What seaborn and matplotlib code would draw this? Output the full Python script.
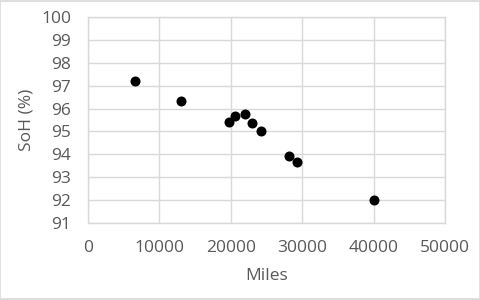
import matplotlib
matplotlib.use("Agg")
import matplotlib.pyplot as plt
import seaborn as sns
import pandas as pd
from matplotlib.patches import Rectangle

miles = [6600, 13000, 19750, 20650, 22000, 23000, 24200, 28200, 29300, 40000]
soh = [97.2, 96.35, 95.4, 95.68, 95.78, 95.38, 95.0, 93.93, 93.68, 92.0]
x_ticks = [0, 10000, 20000, 30000, 40000, 50000]
y_ticks = [91, 92, 93, 94, 95, 96, 97, 98, 99, 100]

df = pd.DataFrame({"Miles": miles, "SoH (%)": soh})

sns.set_theme(style="whitegrid")
plt.rcParams["font.family"] = ["Open Sans", "DejaVu Sans"]

fig = plt.figure(figsize=(4.81, 3.0), dpi=100)
ax = fig.add_axes([0.183, 0.257, 0.742, 0.686])

sns.scatterplot(data=df, x="Miles", y="SoH (%)", ax=ax, color="black",
                s=52, edgecolor="black", linewidth=0, zorder=3)

ax.set_xlim(0, 50000)
ax.set_ylim(91, 100)
ax.set_xticks(x_ticks)
ax.set_yticks(y_ticks)
ax.set_xticklabels([str(t) for t in x_ticks])
ax.set_yticklabels([str(t) for t in y_ticks])
ax.grid(True, color="#d9d9d9", linewidth=1.0)
for s in ax.spines.values():
    s.set_visible(True)
    s.set_color("#d9d9d9")
    s.set_linewidth(1.0)
ax.tick_params(axis="both", labelsize=12.5, colors="#595959", length=0, pad=12)
ax.set_xlabel("Miles", fontsize=12.5, color="#595959", labelpad=9)
ax.set_ylabel("SoH (%)", fontsize=12.5, color="#595959", labelpad=5)

fig.patches.append(Rectangle((0.001, 0.002), 0.997, 0.995, transform=fig.transFigure,
                             fill=False, edgecolor="#d9d9d9", linewidth=1.2))

fig.savefig("out.png", dpi=100, facecolor="white")
